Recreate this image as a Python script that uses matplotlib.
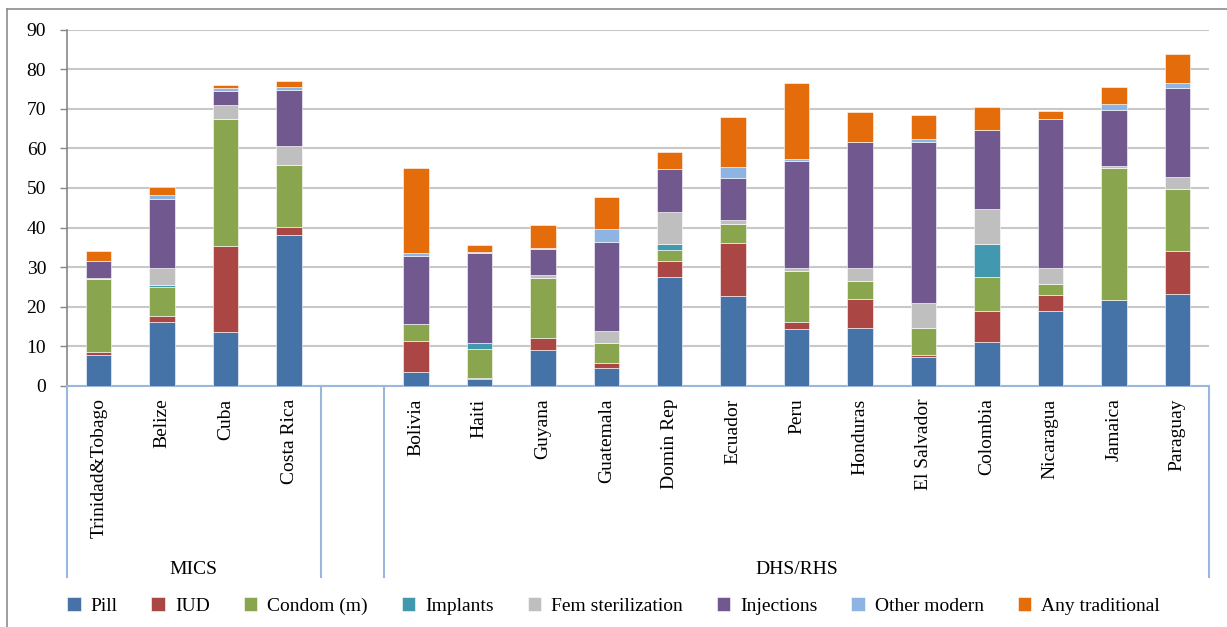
import matplotlib.pyplot as plt
import numpy as np
from matplotlib.lines import Line2D

plt.rcParams['font.family'] = ['Liberation Serif', 'DejaVu Serif']

# categories (an empty slot separates the two survey groups)
countries = ['Trinidad&Tobago', 'Belize', 'Cuba', 'Costa Rica', '',
             'Bolivia', 'Haiti', 'Guyana', 'Guatemala', 'Domin Rep', 'Ecuador',
             'Peru', 'Honduras', 'El Salvador', 'Colombia', 'Nicaragua',
             'Jamaica', 'Paraguay']
groups = ['MICS', '', 'DHS/RHS']

# stacked series values (%)
pill        = [7.9, 16.2, 13.7, 38.0, 0, 3.6, 1.8, 9.0, 4.6, 27.6, 22.6, 14.4, 14.7, 7.2, 11.2, 19.0, 21.6, 23.3]
iud         = [0.7, 1.5, 21.7, 2.1, 0, 7.8, 0.1, 3.1, 1.1, 4.0, 13.5, 1.8, 7.2, 0.7, 7.8, 4.0, 0.2, 10.8]
condom      = [18.3, 7.4, 31.9, 15.7, 0, 4.3, 7.5, 15.1, 5.1, 2.8, 4.7, 12.8, 4.6, 6.7, 8.4, 2.8, 33.3, 15.6]
implants    = [0, 0.3, 0, 0, 0, 0, 1.5, 0, 0, 1.4, 0, 0, 0, 0, 8.5, 0, 0, 0]
fem_ster    = [0.4, 4.4, 3.6, 4.7, 0, 0, 0, 0.7, 3.2, 8.2, 1.0, 0.7, 3.2, 6.3, 8.9, 3.9, 0.5, 3.0]
injections  = [4.3, 17.4, 3.6, 14.2, 0, 17.0, 22.8, 6.8, 22.4, 10.8, 10.6, 27.1, 31.9, 40.7, 19.9, 37.6, 14.2, 22.5]
other_mod   = [0, 0.9, 0.8, 0.8, 0, 0.8, 0.2, 0.2, 3.2, 0, 2.8, 0.5, 0.1, 0.8, 0, 0, 1.5, 1.4]
traditional = [2.5, 2.2, 0.6, 1.4, 0, 21.5, 1.8, 5.8, 8.0, 4.2, 12.8, 19.2, 7.5, 6.0, 5.8, 2.1, 4.2, 7.2]

series = [('Pill', pill, '#4572A7'),
          ('IUD', iud, '#AA4643'),
          ('Condom (m)', condom, '#89A54E'),
          ('Implants', implants, '#4198AF'),
          ('Fem sterilization', fem_ster, '#BFBFBF'),
          ('Injections', injections, '#71588F'),
          ('Other modern', other_mod, '#8EB4E3'),
          ('Any traditional', traditional, '#E46C0A')]

W, H = 1227, 627
fig = plt.figure(figsize=(W / 100, H / 100), dpi=100)
ax = fig.add_axes([67 / W, 1 - 386 / H, (1209 - 67) / W, (386 - 29.5) / H])

x = np.arange(len(countries))
bottom = np.zeros(len(countries))
for name, vals, col in series:
    vals = np.array(vals)
    ax.bar(x, vals, 0.4, bottom=bottom, color=col, label=name,
           edgecolor='white', linewidth=0.4, zorder=3)
    bottom += vals

ax.set_xlim(-0.5, len(countries) - 0.5)
ax.set_ylim(0, 90)
ax.set_yticks(np.arange(0, 91, 10))
ax.yaxis.grid(True, color='#C8C8C8', linewidth=1.5, zorder=0)
ax.tick_params(axis='y', length=5, width=1, color='#878787', labelsize=14, pad=10)

ax.set_xticks(x)
ax.set_xticklabels(countries, rotation=90, fontsize=14)
ax.tick_params(axis='x', length=0, pad=9)

for s in ['top', 'right']:
    ax.spines[s].set_visible(False)
ax.spines['left'].set_color('#878787')
ax.spines['left'].set_linewidth(1.2)
ax.spines['bottom'].set_color('#9BB7DE')
ax.spines['bottom'].set_linewidth(1.5)

# group separators and group labels
tr = ax.get_xaxis_transform()
sep_bottom = (386 - 577) / (386 - 29.5)
for xs in [-0.5, 3.5, 4.5, len(countries) - 0.5]:
    ax.add_line(Line2D([xs, xs], [0, sep_bottom], transform=tr, color='#9BB7DE',
                       linewidth=1.5, clip_on=False))
grp_y = (386 - 569) / (386 - 29.5)
ax.text(1.5, grp_y, 'MICS', transform=tr, ha='center', va='center', fontsize=14)
ax.text(11, grp_y, 'DHS/RHS', transform=tr, ha='center', va='center', fontsize=14)

# chart area border (left and top edges visible)
fig.add_artist(Line2D([7 / W, 7 / W], [0, 1 - 9 / H], color='#8C8C8C', linewidth=1.2))
fig.add_artist(Line2D([7 / W, 1], [1 - 9 / H, 1 - 9 / H], color='#8C8C8C', linewidth=1.2))

fig.legend(loc='center', bbox_to_anchor=(0.5, 1 - 606 / H), ncol=8, frameon=False,
           fontsize=14, handlelength=0.7, handleheight=0.7, handletextpad=0.5,
           columnspacing=1.75)

fig.savefig('out.png', dpi=100)
